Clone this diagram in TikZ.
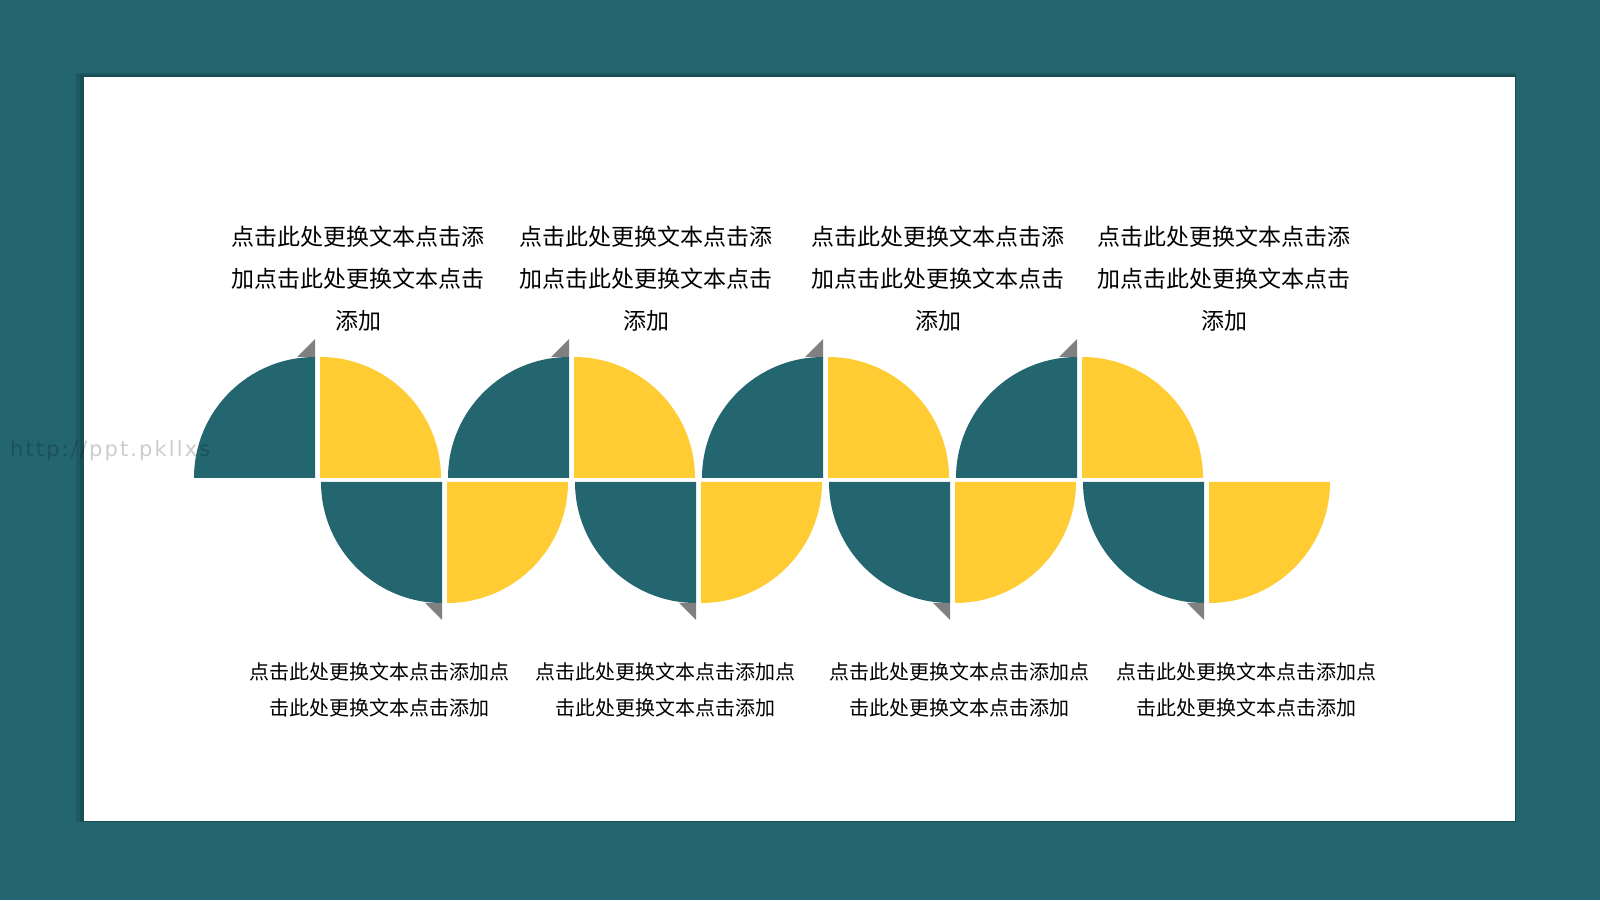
\documentclass[tikz,border=0pt]{standalone}
\usepackage{fontspec}
\newfontfamily\cjk{Noto Sans CJK SC}
\newfontfamily\wmfont{DejaVu Sans}[LetterSpace=10]
\definecolor{tealc}{RGB}{35,102,112}
\definecolor{yellowc}{RGB}{255,204,51}
\definecolor{foldc}{RGB}{128,128,128}
\begin{document}
\begin{tikzpicture}[x=1pt,y=1pt,
  toptext/.style={font=\cjk\fontsize{23}{42}\selectfont,align=center,inner sep=0pt},
  bottext/.style={font=\cjk\fontsize{20}{36}\selectfont,align=center,inner sep=0pt}]

\useasboundingbox (0,0) rectangle (1600,900);
\fill[tealc] (0,0) rectangle (1600,900);
\fill[black,opacity=0.12] (76,78) rectangle (1516,827);
\fill[black,opacity=0.12] (80,78) rectangle (1516,825);
\fill[white] (84,79) rectangle (1515,823);

% quarters, upper row and lower row
\foreach \i in {0,...,3}{
  \fill[tealc] (315+254*\i,422) -- ++(0,121) arc (90:180:121) -- cycle;
  \fill[yellowc] (320+254*\i,422) -- ++(121,0) arc (0:90:121) -- cycle;
  \fill[tealc] (442+254*\i,418) -- ++(-121,0) arc (180:270:121) -- cycle;
  \fill[yellowc] (447+254*\i,418) -- ++(0,-121) arc (270:360:121) -- cycle;
  \fill[foldc] (297+254*\i,543) -- (315+254*\i,561) -- (315+254*\i,543) -- cycle;
  \fill[foldc] (425+254*\i,297) -- (442+254*\i,280) -- (442+254*\i,297) -- cycle;
}

\foreach \x/\n in {358/1,646/2,938/3,1224/4}
  \node[toptext] (top\n) at (\x,621) {点击此处更换文本点击添\\加点击此处更换文本点击\\添加};
\foreach \x/\n in {379/1,665/2,959/3,1246/4}
  \node[bottext] (bot\n) at (\x,210) {点击此处更换文本点击添加点\\击此处更换文本点击添加};

\node[font=\wmfont\fontsize{21}{21}\selectfont,text=black,text opacity=0.2,anchor=west,inner sep=0pt] (wm) at (10,449) {http://ppt.pkllxs};

\end{tikzpicture}
\end{document}
